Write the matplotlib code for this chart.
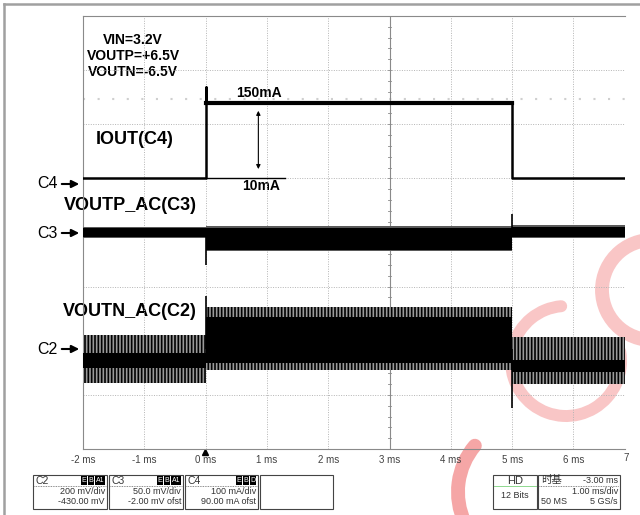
import matplotlib.pyplot as plt
import matplotlib.patches as mpatches
import numpy as np

plt.rcParams['font.family'] = ['Liberation Sans', 'Noto Sans CJK SC', 'DejaVu Sans']
plt.rcParams['hatch.linewidth'] = 1.2

# time axis segments (ms): before step, load on, after step
seg_t = [-2.0, 0.0, 5.0, 6.84]
tick_ms = [-2, -1, 0, 1, 2, 3, 4, 5, 6]

# C4 load current (mA)
c4_t = [-2.0, 0.0, 0.0, 0.0, 5.0, 5.0, 6.84]
c4_ma = [10, 10, 178, 150, 150, 10, 10]

# C3 VOUTP ripple envelope (mV) for each segment
c3_hi = [4.0, 4.5, 5.5]
c3_lo = [-4.0, -16.0, -4.0]
c3_spike_t = [0.0, 5.0]
c3_spike_mv = [-30, 17]

# C2 VOUTN ripple envelope (mV) for each segment, outer and dense core
c2_hi = [52, 155, 44]
c2_lo = [-126, -78, -130]
c2_core_hi = [-15, 118, -41]
c2_core_lo = [-70, -52, -85]
c2_spike_t = [0.0, 5.0]
c2_spike_mv = [196, -218]

# channel settings: volts/div and marker position in divisions
c2_scale, c2_pos = 200.0, -2.15
c3_scale, c3_pos = 50.0, 0.0
c4_scale, c4_pos = 100.0, 0.9


def to_div(v, scale, p):
    return p + np.asarray(v, dtype=float) / scale


fig = plt.figure(figsize=(6.4, 5.15), dpi=100)

# overlay in pixel coordinates for labels, boxes and watermark
ov = fig.add_axes([0, 0, 1, 1], zorder=0)
ov.set_xlim(0, 640)
ov.set_ylim(515, 0)
ov.axis('off')

ax = fig.add_axes([83 / 640, 66 / 515, 542 / 640, 433 / 515], zorder=1)
ax.set_facecolor('none')
ax.set_xlim(seg_t[0], seg_t[-1])
ax.set_ylim(-4, 4)
ax.set_xticks(tick_ms)
ax.set_xticklabels([f"{v} ms" for v in tick_ms], fontsize=7, color='#404040')
ax.set_yticks(range(-4, 5))
ax.set_yticklabels([])
ax.tick_params(length=0, pad=4)
ax.grid(color='#b4b4b4', ls=(0, (1, 1.5)), lw=0.7)
for s in ['left', 'top', 'bottom']:
    ax.spines[s].set_color('#8a8a8a')
ax.spines['right'].set_visible(False)

# centre axis with small ticks
ax.axvline(3, color='#8a8a8a', lw=0.8)
for yy in np.arange(-4, 4.01, 0.2):
    ax.plot([2.97, 3.03], [yy, yy], color='#8a8a8a', lw=0.6)

# faint cursor line
ax.axhline(2.47, color='#cfcfcf', ls=(0, (1, 6)), lw=1.5, zorder=0)

# C4 current
c4_y = to_div(c4_ma, c4_scale, c4_pos)
ax.plot(c4_t, c4_y, color='black', lw=1.8, zorder=5)
ax.plot(c4_t[3:5], c4_y[3:5], color='black', lw=3.0, zorder=5)
lvl10 = to_div(10, c4_scale, c4_pos)
ax.plot([0, 1.3], [lvl10, lvl10], color='black', lw=1.0)
ax.annotate('', xy=(0.86, to_div(22, c4_scale, c4_pos)),
            xytext=(0.86, to_div(140, c4_scale, c4_pos)),
            arrowprops=dict(arrowstyle='<|-|>', color='black', lw=0.8, mutation_scale=6))

# C3 ripple
for i in range(3):
    x = [seg_t[i], seg_t[i + 1]]
    lo = to_div(c3_lo[i], c3_scale, c3_pos)
    hi = to_div(c3_hi[i], c3_scale, c3_pos)
    ax.fill_between(x, lo - 0.03, hi + 0.03, color='#5a5a5a', lw=0, zorder=4)
    ax.fill_between(x, lo, hi, color='black', lw=0, zorder=4)
ax.vlines(c3_spike_t, c3_pos, to_div(c3_spike_mv, c3_scale, c3_pos), color='black', lw=1.2, zorder=4)

# C2 ripple
for i in range(3):
    x = [seg_t[i], seg_t[i + 1]]
    ax.fill_between(x, to_div(c2_lo[i], c2_scale, c2_pos), to_div(c2_hi[i], c2_scale, c2_pos),
                    facecolor='#9a9a9a', edgecolor='black', hatch='|||||', lw=0, zorder=4)
    ax.fill_between(x, to_div(c2_core_lo[i], c2_scale, c2_pos), to_div(c2_core_hi[i], c2_scale, c2_pos),
                    color='black', lw=0, zorder=4)
ax.vlines(c2_spike_t, c2_pos, to_div(c2_spike_mv, c2_scale, c2_pos), color='black', lw=1.2, zorder=4)

# watermark rings (visual angles converted for inverted y)
wm = '#f9c6c6'
for cx, cy, r, a1, a2, w, col in [(566, 361, 110, 95, 370, 8.6, wm),
                                  (652, 290, 100, 80, 280, 10, wm),
                                  (530, 492, 144, 140, 205, 10, '#f5a6a6')]:
    ov.add_patch(mpatches.Arc((cx, cy), r, r, theta1=-a2, theta2=-a1, color=col, lw=w,
                              capstyle='round', zorder=0))

# outer frame of the screenshot
ov.plot([4, 4], [4, 515], color='#a0a0a0', lw=1.8)
ov.plot([4, 640], [4, 4], color='#a0a0a0', lw=1.8)

# text annotations
ov.text(133, 40, 'VIN=3.2V', ha='center', va='center', fontsize=10, fontweight='bold')
ov.text(133, 56, 'VOUTP=+6.5V', ha='center', va='center', fontsize=10, fontweight='bold')
ov.text(133, 72, 'VOUTN=-6.5V', ha='center', va='center', fontsize=10, fontweight='bold')
ov.text(259, 93, '150mA', ha='center', va='center', fontsize=10, fontweight='bold')
ov.text(261, 186, '10mA', ha='center', va='center', fontsize=10, fontweight='bold')
ov.text(135, 140, 'IOUT(C4)', ha='center', va='center', fontsize=13, fontweight='bold')
ov.text(130, 206, 'VOUTP_AC(C3)', ha='center', va='center', fontsize=13, fontweight='bold')
ov.text(130, 312, 'VOUTN_AC(C2)', ha='center', va='center', fontsize=13, fontweight='bold')

for name, yy in [('C4', 184), ('C3', 233), ('C2', 349)]:
    ov.text(47, yy, name, ha='center', va='center', fontsize=11.5)
    ov.annotate('', xy=(82, yy), xytext=(59, yy),
                arrowprops=dict(arrowstyle='-|>', color='black', lw=1.5, mutation_scale=11))

ov.plot([205], [452], marker='^', color='black', ms=5)
ov.text(623, 458, '7', ha='left', va='center', fontsize=7, color='#404040')


def info_box(x0, x1, title='', badges=(), lines=(), left_lines=()):
    ov.add_patch(mpatches.Rectangle((x0, 475), x1 - x0, 34, fill=False, ec='#444444', lw=0.8))
    if title:
        ov.text(x0 + 3, 480.5, title, ha='left', va='center', fontsize=7.5, color='#333333')
        ov.plot([x0 + 1, x1 - 1], [486, 486], color='#666666', lw=0.6, ls=(0, (1, 1)))
    xr = x1 - 2
    for b in reversed(badges):
        w = 10 if len(b) > 1 else 6
        ov.add_patch(mpatches.Rectangle((xr - w, 476), w, 9, color='black', lw=0))
        ov.text(xr - w / 2, 480.5, b, ha='center', va='center', fontsize=5, color='white')
        xr -= w + 1
    for s, yy in lines:
        ov.text(x1 - 2, yy, s, ha='right', va='center', fontsize=6.5, color='#333333')
    for s, yy in left_lines:
        ov.text(x0 + 3, yy, s, ha='left', va='center', fontsize=6.5, color='#333333')


info_box(33, 107, 'C2', ('E', 'B', 'A1'), [('200 mV/div', 492), ('-430.00 mV', 502)])
info_box(109, 183, 'C3', ('E', 'B', 'A1'), [('50.0 mV/div', 492), ('-2.00 mV ofst', 502)])
info_box(185, 258, 'C4', ('E', 'B', 'D'), [('100 mA/div', 492), ('90.00 mA ofst', 502)])
info_box(260, 333)
info_box(493, 537)
ov.text(515, 480.5, 'HD', ha='center', va='center', fontsize=8, color='#333333')
ov.plot([494, 536], [486, 486], color='#8fd88f', lw=0.7)
ov.text(515, 495, '12 Bits', ha='center', va='center', fontsize=6.5, color='#333333')
info_box(538, 620, '时基', (), [('-3.00 ms', 480.5), ('1.00 ms/div', 492), ('5 GS/s', 502)],
         [('50 MS', 502)])

fig.savefig('out.png', dpi=100)
